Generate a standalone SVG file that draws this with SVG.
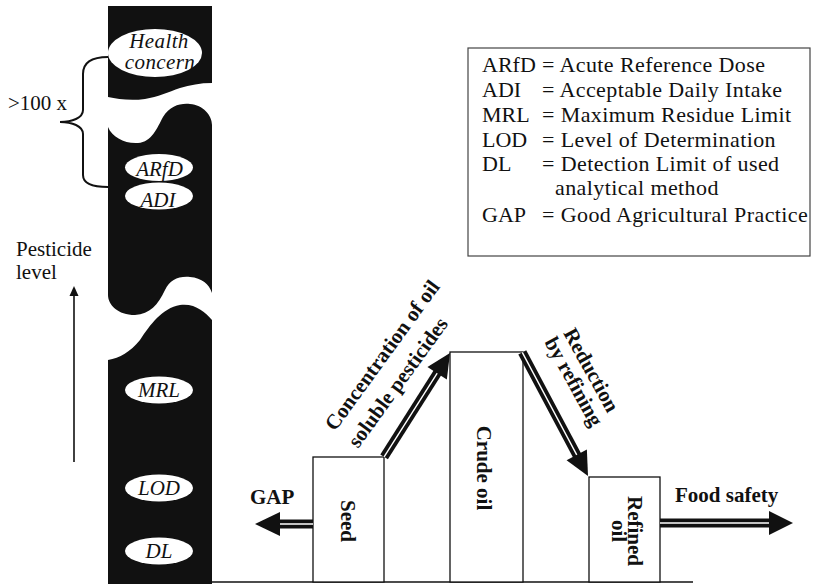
<svg xmlns="http://www.w3.org/2000/svg" width="814" height="584" viewBox="0 0 814 584">
  <style>
    text { font-family: "Liberation Serif", "Times New Roman", serif; fill: #111; }
    .it { font-style: italic; font-size: 21px; text-anchor: middle; }
    .bold { font-weight: bold; font-size: 21px; }
    .leg { font-size: 22px; }
    .def { letter-spacing: 0.4px; }
    .lvl { fill: #fff; }
    .box { fill: #fff; stroke: #111; stroke-width: 1.3; }
    .shaft { stroke: #111; stroke-width: 9; fill: none; }
    .core { stroke: #fff; stroke-width: 1.4; fill: none; }
    .head { fill: #111; }
  </style>

  <!-- pesticide level scale: black column broken in two places -->
  <g id="scale-column" fill="#111">
    <path d="M108,6 H212 V83 C200,83 190,85 180,88 C168,92 158,97 145,99 C130,101 118,99 108,97 Z"/>
    <path d="M108,127 C112,137 125,144 138,143 C152,142 157,128 163,117 C170,106 180,103 190,104 C203,105 212,115 212,125 V293 C209,284 202,278 190,277 C178,276 170,280 165,290 C158,305 150,314 135,315 C118,315 108,305 108,295 Z"/>
    <path d="M108,360 C120,358 130,352 140,340 C150,325 162,308 180,305 C195,303 205,312 212,320 V584 H108 Z"/>
  </g>

  <!-- level markers on the column -->
  <g id="health-concern">
    <ellipse class="lvl" cx="155" cy="53" rx="47" ry="24"/>
    <text class="it" x="159" y="47.5" font-size="18.5" letter-spacing="0.4">Health</text>
    <text class="it" x="160" y="69" font-size="18.5" letter-spacing="0.4">concern</text>
  </g>
  <g id="arfd">
    <ellipse class="lvl" cx="159" cy="167.5" rx="34" ry="13.5"/>
    <text class="it" x="159.5" y="176">ARfD</text>
  </g>
  <g id="adi">
    <ellipse class="lvl" cx="159" cy="196" rx="34" ry="13.5"/>
    <text class="it" x="158" y="207">ADI</text>
  </g>
  <g id="mrl">
    <ellipse class="lvl" cx="159" cy="390" rx="34" ry="13.5"/>
    <text class="it" x="159" y="397">MRL</text>
  </g>
  <g id="lod">
    <ellipse class="lvl" cx="159" cy="488" rx="34" ry="13.5"/>
    <text class="it" x="159" y="495">LOD</text>
  </g>
  <g id="dl">
    <ellipse class="lvl" cx="159" cy="551" rx="34" ry="13.5"/>
    <text class="it" x="159" y="558">DL</text>
  </g>

  <!-- safety margin brace -->
  <g id="margin">
    <path d="M108,57 C92,57 83,62 83,74 V110 C83,118 72,122 60,122 C72,122 83,126 83,134 V175 C83,183 92,187 108,187" fill="none" stroke="#111" stroke-width="2"/>
    <text x="8" y="110" font-size="21">&gt;100 x</text>
  </g>

  <!-- axis label -->
  <g id="axis">
    <text x="16" y="256" font-size="21">Pesticide</text>
    <text x="16" y="279" font-size="21">level</text>
    <line x1="74" y1="462" x2="74" y2="293" stroke="#111" stroke-width="1.6"/>
    <polygon points="74,286 69.5,296 78.5,296" fill="#111"/>
  </g>

  <!-- abbreviation legend -->
  <g id="legend">
    <rect x="468" y="48" width="342" height="208" fill="#fff" stroke="#444" stroke-width="1.2"/>
    <text class="leg" x="482" y="72">ARfD</text><text class="leg def" x="542" y="72">= Acute Reference Dose</text>
    <text class="leg" x="482" y="97">ADI</text><text class="leg def" x="542" y="97">= Acceptable Daily Intake</text>
    <text class="leg" x="482" y="122">MRL</text><text class="leg def" x="542" y="122">= Maximum Residue Limit</text>
    <text class="leg" x="482" y="147">LOD</text><text class="leg def" x="542" y="147">= Level of Determination</text>
    <text class="leg" x="482" y="171">DL</text><text class="leg def" x="542" y="171">= Detection Limit of used</text>
    <text class="leg def" x="555" y="195">analytical method</text>
    <text class="leg" x="482" y="222">GAP</text><text class="leg def" x="542" y="222">= Good Agricultural Practice</text>
  </g>

  <!-- processing stages -->
  <line id="baseline" x1="212" y1="582" x2="693" y2="582" stroke="#111" stroke-width="1.3"/>
  <g id="seed">
    <rect class="box" x="313" y="457" width="71" height="125"/>
    <text class="bold" transform="translate(341,521) rotate(90)" text-anchor="middle">Seed</text>
  </g>
  <g id="crude-oil">
    <rect class="box" x="450" y="352" width="73" height="230"/>
    <text class="bold" transform="translate(477,468) rotate(90)" text-anchor="middle">Crude oil</text>
  </g>
  <g id="refined-oil">
    <rect class="box" x="589" y="477" width="71" height="105"/>
    <text class="bold" transform="translate(628,531) rotate(90)" text-anchor="middle">Refined</text>
    <text class="bold" transform="translate(612,531) rotate(90)" text-anchor="middle">oil</text>
  </g>

  <!-- connectors: double-line arrows, drawn pointing along +x to a tip at 0,0 -->
  <g id="connectors">
    <g id="arrow-gap" transform="translate(255,524) rotate(180)">
      <line class="shaft" x1="-58" y1="0" x2="-20" y2="0"/>
      <line class="core" x1="-58" y1="0" x2="-22" y2="0"/>
      <polygon class="head" points="0,0 -25,-12 -25,12"/>
    </g>
    <g id="arrow-concentration" transform="translate(450,353) rotate(-57.6)">
      <line class="shaft" x1="-123" y1="0" x2="-20" y2="0"/>
      <line class="core" x1="-123" y1="0" x2="-22" y2="0"/>
      <polygon class="head" points="0,0 -24,-11.5 -24,11.5"/>
    </g>
    <g id="arrow-reduction" transform="translate(588,476) rotate(62)">
      <line class="shaft" x1="-140" y1="0" x2="-20" y2="0"/>
      <line class="core" x1="-140" y1="0" x2="-22" y2="0"/>
      <polygon class="head" points="0,0 -24,-11.5 -24,11.5"/>
    </g>
    <g id="arrow-food" transform="translate(793,523)">
      <line class="shaft" x1="-133" y1="0" x2="-20" y2="0"/>
      <line class="core" x1="-133" y1="0" x2="-22" y2="0"/>
      <polygon class="head" points="0,0 -24,-12 -24,12"/>
    </g>
  </g>

  <!-- connector labels -->
  <g id="labels">
    <text class="bold" x="250" y="504">GAP</text>
    <text class="bold" x="675" y="502">Food safety</text>
    <text class="bold" transform="translate(335,432) rotate(-54)">Concentration of oil</text>
    <text class="bold" transform="translate(358,449) rotate(-54)">soluble pesticides</text>
    <text class="bold" transform="translate(563,333) rotate(61)">Reduction</text>
    <text class="bold" transform="translate(544,342) rotate(61)">by refining</text>
  </g>
</svg>
